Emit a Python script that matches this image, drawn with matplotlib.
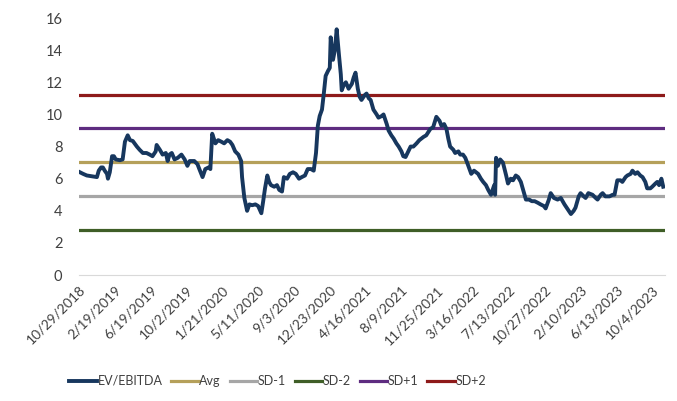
import matplotlib.pyplot as plt
import numpy as np

# trading-day index (category position) and EV/EBITDA reading
day = [2, 9, 17, 28, 39, 43, 48, 52, 56, 61, 63, 67, 72, 76, 80, 89, 95, 100,
       106, 111, 117, 126, 132, 139, 147, 154, 160, 167, 169, 176, 182, 189,
       193, 197, 202, 208, 215, 223, 230, 236, 241, 251, 258, 262, 269, 275,
       282, 286, 290, 297, 303, 310, 316, 323, 329, 334, 340, 347, 353, 355,
       360, 366, 371, 377, 384, 390, 397, 401, 405, 410, 414, 418, 425, 431,
       436, 442, 446, 453, 459, 466, 472, 479, 485, 492, 498, 505, 511, 516,
       520, 524, 529, 533, 537, 542, 546, 548, 553, 557, 561, 566, 570, 572,
       576, 581, 587, 594, 598, 602, 607, 611, 615, 622, 626, 631, 635, 641,
       648, 652, 659, 663, 670, 674, 680, 685, 691, 696, 702, 706, 711, 717,
       722, 728, 735, 741, 750, 756, 765, 771, 778, 785, 789, 795, 800, 804,
       808, 815, 819, 826, 830, 836, 841, 847, 854, 860, 869, 875, 880, 886,
       891, 897, 904, 906, 908, 912, 917, 923, 930, 934, 940, 945, 951, 956,
       962, 966, 973, 980, 986, 992, 999, 1005, 1012, 1016, 1023, 1027, 1034,
       1042, 1049, 1057, 1064, 1071, 1077, 1081, 1088, 1092, 1099, 1103, 1109,
       1118, 1125, 1129, 1136, 1140, 1146, 1155, 1162, 1166, 1172, 1179, 1183,
       1190, 1194, 1201, 1205, 1211, 1216, 1222, 1227, 1233, 1237, 1244, 1248,
       1255, 1259, 1263, 1268, 1272]
ev_ebitda = [6.4, 6.3, 6.2, 6.15, 6.1, 6.5, 6.7, 6.7, 6.5, 6.3, 6.0, 6.4, 7.4,
             7.4, 7.2, 7.15, 7.2, 8.3, 8.7, 8.4, 8.35, 8.0, 7.8, 7.6, 7.6, 7.5,
             7.4, 7.7, 8.1, 7.8, 7.5, 7.6, 7.1, 7.5, 7.6, 7.2, 7.3, 7.5, 7.2,
             6.8, 7.1, 7.1, 6.9, 6.6, 6.1, 6.6, 6.7, 6.6, 8.8, 8.2, 8.4, 8.3,
             8.2, 8.4, 8.3, 8.1, 7.7, 7.5, 7.1, 6.1, 4.8, 4.0, 4.4, 4.35, 4.4,
             4.3, 3.85, 4.6, 5.4, 6.2, 5.8, 5.6, 5.5, 5.6, 5.3, 5.2, 6.1, 6.0,
             6.3, 6.4, 6.3, 6.0, 6.1, 6.2, 6.6, 6.6, 6.5, 7.6, 9.3, 9.9, 10.3,
             11.3, 12.4, 12.7, 12.9, 14.8, 13.4, 14.0, 15.3, 13.7, 12.5, 11.5,
             11.8, 12.0, 11.6, 11.9, 12.3, 12.6, 11.6, 11.1, 10.9, 11.2, 11.3,
             11.0, 10.9, 10.3, 10.0, 9.8, 9.9, 10.0, 9.4, 9.0, 8.7, 8.5, 8.2,
             8.0, 7.7, 7.4, 7.35, 7.7, 8.0, 8.0, 8.2, 8.4, 8.6, 8.7, 9.1, 9.2,
             9.85, 9.6, 9.3, 9.4, 9.1, 8.5, 8.0, 7.8, 7.6, 7.7, 7.5, 7.5, 7.3,
             6.85, 6.3, 6.5, 6.3, 6.0, 5.8, 5.6, 5.3, 5.0, 5.6, 5.0, 7.3, 6.8,
             7.2, 7.0, 6.2, 5.7, 6.0, 5.9, 6.2, 6.1, 5.8, 5.4, 4.7, 4.7, 4.6,
             4.6, 4.5, 4.4, 4.3, 4.15, 4.7, 5.1, 4.8, 4.7, 4.8, 4.4, 4.1, 3.8,
             4.0, 4.2, 4.9, 5.1, 4.9, 4.8, 5.1, 5.0, 4.8, 4.7, 5.0, 5.1, 4.9,
             4.9, 5.0, 5.0, 5.9, 5.9, 5.8, 6.1, 6.2, 6.3, 6.5, 6.3, 6.4, 6.2,
             6.1, 5.8, 5.4, 5.4, 5.5, 5.7, 5.8, 5.6, 6.0, 5.5]

avg = 7.03
sd = 2.1
n_days = 1275
label_step = 78
tick_labels = ["10/29/2018", "2/19/2019", "6/19/2019", "10/2/2019", "1/21/2020",
               "5/11/2020", "9/3/2020", "12/23/2020", "4/16/2021", "8/9/2021",
               "11/25/2021", "3/16/2022", "7/13/2022", "10/27/2022", "2/10/2023",
               "6/13/2023", "10/4/2023"]

# band label -> (level, color)
BANDS = {
    "Avg":  (avg, "#B5A05A"),
    "SD-1": (avg - sd, "#A6A6A6"),
    "SD-2": (avg - 2 * sd, "#3F5E27"),
    "SD+1": (avg + sd, "#5E2C80"),
    "SD+2": (avg + 2 * sd, "#8E1A1A"),
}

plt.rcParams["font.family"] = ["Lato", "DejaVu Sans"]

fig = plt.figure(figsize=(6.77, 4.01), dpi=100)
ax = fig.add_axes([0.1167, 0.314, 0.865, 0.641])

ax.plot(day, ev_ebitda, color="#17375E", lw=2.8, label="EV/EBITDA",
        solid_joinstyle="round", zorder=5)
for name, (level, color) in BANDS.items():
    ax.axhline(level, color=color, lw=2.3, label=name, zorder=3)

ax.set_xlim(0, n_days)
ax.set_ylim(0, 16)
ax.set_yticks(np.arange(0, 17, 2))
ticks = np.arange(len(tick_labels)) * label_step
ax.set_xticks(ticks)
ax.set_xticklabels(tick_labels, rotation=45, ha="right", rotation_mode="anchor",
                   fontsize=10, color="#404040")
ax.tick_params(axis="y", length=0, labelsize=10.5, labelcolor="#404040", pad=12)
ax.tick_params(axis="x", length=0, pad=6)
for side in ["top", "right", "left"]:
    ax.spines[side].set_visible(False)
ax.spines["bottom"].set_color("#D9D9D9")

fig.legend(loc="center", bbox_to_anchor=(0.41, 0.05), ncol=6, frameon=False,
           fontsize=9, handlelength=2.2, handletextpad=0.05,
           columnspacing=0.7, labelcolor="#404040")

fig.savefig("out.png", dpi=100)
